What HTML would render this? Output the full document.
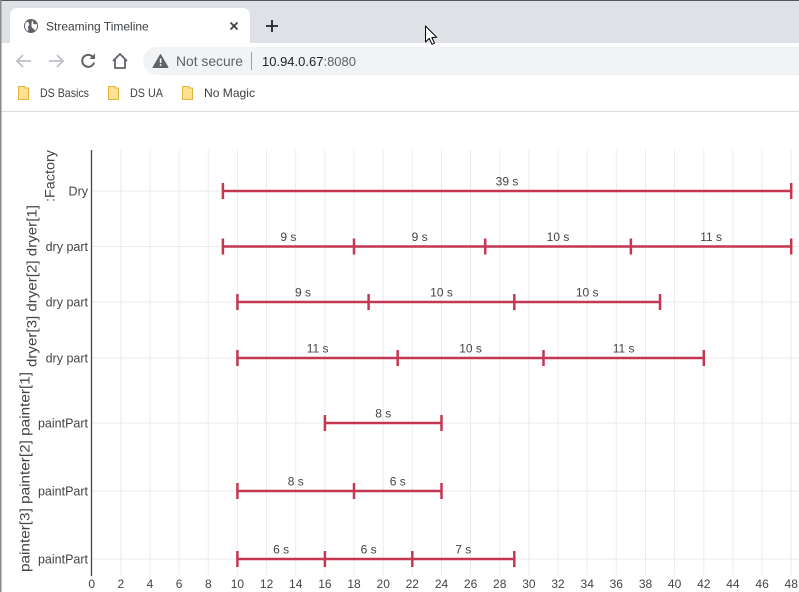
<!DOCTYPE html>
<html><head><meta charset="utf-8"><style>
html,body{margin:0;padding:0;background:#fff;width:799px;height:592px;overflow:hidden}
svg{display:block}
text{font-family:"Liberation Sans",Arial,sans-serif}
</style></head><body>
<svg width="799" height="592" viewBox="0 0 799 592" xmlns="http://www.w3.org/2000/svg">
<!-- Browser chrome -->
<rect x="0" y="0" width="799" height="43" fill="#dee1e6"/>
<rect x="0" y="0" width="799" height="1" fill="#555"/>
<path d="M10,43 L10,16 Q10,8 18,8 L242,8 Q250,8 250,16 L250,43 Z" fill="#fff"/>
<rect x="0" y="43" width="799" height="68" fill="#fff"/>
<rect x="0" y="111" width="799" height="1" fill="#dadce0"/>
<rect x="0" y="0" width="1.5" height="592" fill="#8a8a8a"/>
<!-- globe -->
<circle cx="31" cy="26" r="7" fill="#5f6368"/>
<path d="M27,21.5 Q30,23 29,25.5 Q27,27 28.5,29 L27.5,31.5 Q25,29 25,26 Q25,23 27,21.5 Z" fill="#fff"/>
<path d="M32,20.5 Q34,22 33,23.5 Q35,25 37,24 Q37.5,28 35,31 Q34,28 32,28 Q31,25.5 32,20.5 Z" fill="#fff"/>
<text x="46" y="30.5" font-size="12" fill="#3c4043">Streaming Timeline</text>
<path d="M230.5,22.5 L237.5,29.5 M237.5,22.5 L230.5,29.5" stroke="#3c4043" stroke-width="1.7"/>
<path d="M272,20 L272,32 M266,26 L278,26" stroke="#202124" stroke-width="1.8"/>
<!-- cursor -->
<path d="M425.5,26 L425.5,42 L429.3,38.4 L432,44.3 L434.5,43.2 L431.9,37.5 L436.7,37.3 Z" fill="#fff" stroke="#000" stroke-width="1" stroke-linejoin="round"/>
<!-- toolbar icons -->
<path d="M31,61 L17,61 M23,55 L17,61 L23,67" stroke="#bdc1c6" stroke-width="1.8" fill="none"/>
<path d="M49,61 L63,61 M57,55 L63,61 L57,67" stroke="#bdc1c6" stroke-width="1.8" fill="none"/>
<path d="M93.5,58 A6,6 0 1 0 94,62.5" stroke="#5f6368" stroke-width="2" fill="none"/>
<path d="M95,53.5 L95,59 L89.5,59 Z" fill="#5f6368"/>
<path d="M113,61 L120,54 L127,61 M115,59.5 L115,68 L125,68 L125,59.5" stroke="#5f6368" stroke-width="1.8" fill="none" stroke-linejoin="miter"/>
<!-- omnibox -->
<rect x="143" y="47" width="680" height="28" rx="14" fill="#f1f3f4"/>
<path d="M160.5,54.5 L168,67.5 L153,67.5 Z" fill="#5f6368" stroke="#5f6368" stroke-width="1" stroke-linejoin="round"/>
<rect x="159.8" y="58.5" width="1.6" height="4.5" fill="#fff"/>
<rect x="159.8" y="64.2" width="1.6" height="1.6" fill="#fff"/>
<text x="176" y="66" font-size="14" fill="#5f6368" textLength="67" lengthAdjust="spacingAndGlyphs">Not secure</text>
<rect x="251" y="52" width="1" height="18" fill="#9aa0a6"/>
<text x="262" y="66" font-size="13" fill="#202124">10.94.0.67<tspan fill="#5f6368">:8080</tspan></text>
<!-- bookmarks -->
<g fill="#fde293" stroke="#e2b23c" stroke-width="1">
<path d="M18.5,86.5 L25,86.5 L25,88 L28.5,88 L28.5,99.5 L18.5,99.5 Z"/>
<path d="M108.5,86.5 L115,86.5 L115,88 L118.5,88 L118.5,99.5 L108.5,99.5 Z"/>
<path d="M182.5,86.5 L189,86.5 L189,88 L192.5,88 L192.5,99.5 L182.5,99.5 Z"/>
</g>
<text x="40" y="97" font-size="12" fill="#3c4043" textLength="49" lengthAdjust="spacingAndGlyphs">DS Basics</text>
<text x="130" y="97" font-size="12" fill="#3c4043" textLength="33" lengthAdjust="spacingAndGlyphs">DS UA</text>
<text x="204" y="97" font-size="12" fill="#3c4043" textLength="51" lengthAdjust="spacingAndGlyphs">No Magic</text>

<!-- Chart grid -->
<g stroke="#ebebeb" stroke-width="1">
<line x1="120.8" y1="150" x2="120.8" y2="575"/>
<line x1="150" y1="150" x2="150" y2="575"/>
<line x1="179.1" y1="150" x2="179.1" y2="575"/>
<line x1="208.3" y1="150" x2="208.3" y2="575"/>
<line x1="237.4" y1="150" x2="237.4" y2="575"/>
<line x1="266.6" y1="150" x2="266.6" y2="575"/>
<line x1="295.7" y1="150" x2="295.7" y2="575"/>
<line x1="324.9" y1="150" x2="324.9" y2="575"/>
<line x1="354" y1="150" x2="354" y2="575"/>
<line x1="383.2" y1="150" x2="383.2" y2="575"/>
<line x1="412.3" y1="150" x2="412.3" y2="575"/>
<line x1="441.5" y1="150" x2="441.5" y2="575"/>
<line x1="470.6" y1="150" x2="470.6" y2="575"/>
<line x1="499.7" y1="150" x2="499.7" y2="575"/>
<line x1="528.9" y1="150" x2="528.9" y2="575"/>
<line x1="558" y1="150" x2="558" y2="575"/>
<line x1="587.2" y1="150" x2="587.2" y2="575"/>
<line x1="616.3" y1="150" x2="616.3" y2="575"/>
<line x1="645.5" y1="150" x2="645.5" y2="575"/>
<line x1="674.6" y1="150" x2="674.6" y2="575"/>
<line x1="703.8" y1="150" x2="703.8" y2="575"/>
<line x1="732.9" y1="150" x2="732.9" y2="575"/>
<line x1="762.1" y1="150" x2="762.1" y2="575"/>
<line x1="791.2" y1="150" x2="791.2" y2="575"/>
<line x1="92" y1="191" x2="799" y2="191"/>
<line x1="92" y1="246.5" x2="799" y2="246.5"/>
<line x1="92" y1="302" x2="799" y2="302"/>
<line x1="92" y1="358" x2="799" y2="358"/>
<line x1="92" y1="423" x2="799" y2="423"/>
<line x1="92" y1="491" x2="799" y2="491"/>
<line x1="92" y1="559" x2="799" y2="559"/>
</g>
<line x1="91.5" y1="150" x2="91.5" y2="576" stroke="#444" stroke-width="1.3"/>

<!-- x tick labels -->
<g font-size="12" fill="#444" text-anchor="middle">
<text x="91.7" y="588">0</text><text x="120.8" y="588">2</text><text x="150" y="588">4</text>
<text x="179.1" y="588">6</text><text x="208.3" y="588">8</text><text x="237.4" y="588">10</text>
<text x="266.6" y="588">12</text><text x="295.7" y="588">14</text><text x="324.9" y="588">16</text>
<text x="354" y="588">18</text><text x="383.2" y="588">20</text><text x="412.3" y="588">22</text>
<text x="441.5" y="588">24</text><text x="470.6" y="588">26</text><text x="499.7" y="588">28</text>
<text x="528.9" y="588">30</text><text x="558" y="588">32</text><text x="587.2" y="588">34</text>
<text x="616.3" y="588">36</text><text x="645.5" y="588">38</text><text x="674.6" y="588">40</text>
<text x="703.8" y="588">42</text><text x="732.9" y="588">44</text><text x="762.1" y="588">46</text>
<text x="791.2" y="588">48</text>
</g>

<!-- y tick labels -->
<g font-size="12.5" fill="#444" text-anchor="end">
<text x="88" y="195.5">Dry</text>
<text x="88" y="251">dry part</text>
<text x="88" y="306.5">dry part</text>
<text x="88" y="362.5">dry part</text>
<text x="88" y="427.5">paintPart</text>
<text x="88" y="495.5">paintPart</text>
<text x="88" y="563.5">paintPart</text>
</g>

<!-- group labels -->
<g font-size="14" fill="#444" text-anchor="middle">
<text transform="translate(54.5,176) rotate(-90)" textLength="52" lengthAdjust="spacingAndGlyphs">:Factory</text>
<text transform="translate(36.5,286) rotate(-90)" textLength="162" lengthAdjust="spacingAndGlyphs">dryer[3] dryer[2] dryer[1]</text>
<text transform="translate(29.5,472) rotate(-90)" textLength="200" lengthAdjust="spacingAndGlyphs">painter[3] painter[2] painter[1]</text>
</g>

<!-- bars -->
<g stroke="#c33752" stroke-width="2.5" fill="none">
<path d="M222.9,191 L791.2,191 M222.9,183 L222.9,199 M791.2,183 L791.2,199"/>
<path d="M222.9,246.5 L791.2,246.5 M222.9,238.5 L222.9,254.5 M354,238.5 L354,254.5 M485.2,238.5 L485.2,254.5 M630.9,238.5 L630.9,254.5 M791.2,238.5 L791.2,254.5"/>
<path d="M237.4,302 L660,302 M237.4,294 L237.4,310 M368.6,294 L368.6,310 M514.3,294 L514.3,310 M660,294 L660,310"/>
<path d="M237.4,358 L703.8,358 M237.4,350 L237.4,366 M397.7,350 L397.7,366 M543.5,350 L543.5,366 M703.8,350 L703.8,366"/>
<path d="M324.9,423 L441.5,423 M324.9,415 L324.9,431 M441.5,415 L441.5,431"/>
<path d="M237.4,491 L441.5,491 M237.4,483 L237.4,499 M354,483 L354,499 M441.5,483 L441.5,499"/>
<path d="M237.4,559 L514.3,559 M237.4,551 L237.4,567 M324.9,551 L324.9,567 M412.3,551 L412.3,567 M514.3,551 L514.3,567"/>
</g>

<!-- bar labels -->
<g font-size="12" fill="#444" text-anchor="middle">
<text x="507" y="185.5">39 s</text>
<text x="288.4" y="241">9 s</text><text x="419.6" y="241">9 s</text><text x="558" y="241">10 s</text><text x="711.1" y="241">11 s</text>
<text x="303" y="296.5">9 s</text><text x="441.5" y="296.5">10 s</text><text x="587.2" y="296.5">10 s</text>
<text x="317.6" y="352.5">11 s</text><text x="470.6" y="352.5">10 s</text><text x="623.6" y="352.5">11 s</text>
<text x="383.2" y="417.5">8 s</text>
<text x="295.7" y="485.5">8 s</text><text x="397.7" y="485.5">6 s</text>
<text x="281.1" y="553.5">6 s</text><text x="368.6" y="553.5">6 s</text><text x="463.3" y="553.5">7 s</text>
</g>
</svg>
</body></html>
